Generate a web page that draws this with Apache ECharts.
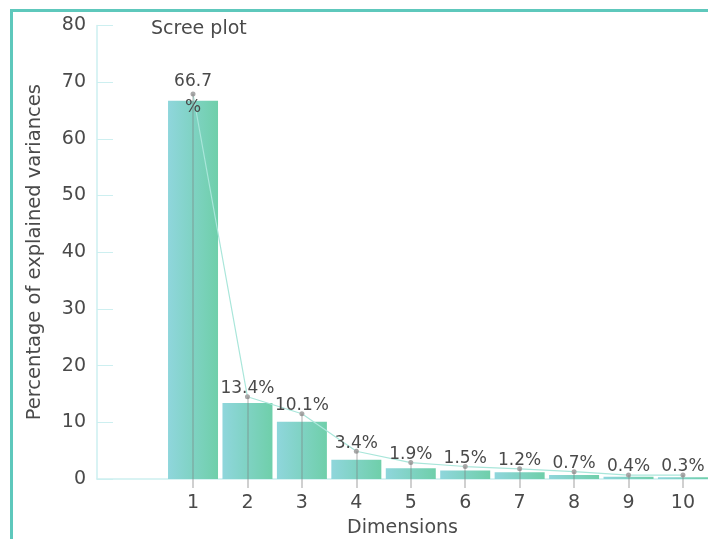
<!DOCTYPE html>
<html><head><meta charset="utf-8">
<script src="https://cdn.jsdelivr.net/npm/echarts@6/dist/echarts.min.js"></script>
<style>
html,body{margin:0;padding:0;background:#fff;overflow:hidden;}
#frame{position:absolute;left:10px;top:9px;width:760px;height:600px;border:3px solid #5ec8bc;box-sizing:border-box;}
#chart{position:absolute;left:0;top:0;width:708px;height:539px;}
</style></head>
<body>
<div id="frame"></div>
<div id="chart"></div>
<script>
const dimensions = [1, 2, 3, 4, 5, 6, 7, 8, 9, 10];
const explained = [66.7, 13.4, 10.1, 3.4, 1.9, 1.5, 1.2, 0.7, 0.4, 0.3];
const linePoints = [67.9, 14.5, 11.5, 4.9, 2.9, 2.2, 1.8, 1.3, 0.7, 0.7];
const yTicks = [0, 10, 20, 30, 40, 50, 60, 70, 80];

const FONT = 'DejaVu Sans';
const TXT = '#4a4a4a';
const chart = echarts.init(document.getElementById('chart'));
const barGrad = new echarts.graphic.LinearGradient(0, 0, 1, 0, [
  {offset: 0, color: '#8fd6dc'}, {offset: 1, color: '#6fcfaa'}
]);
chart.setOption({
  animation: false,
  textStyle: {fontFamily: FONT},
  title: {text: 'Scree plot', left: 146, top: 15,
    textStyle: {fontFamily: FONT, fontSize: 19, fontWeight: 400, color: TXT}},
  grid: {left: 97, right: 0, top: 25.4, bottom: 60, containLabel: false, outerBoundsMode: 'none'},
  xAxis: {
    type: 'value', min: -0.764, max: 10.46,
    name: 'Dimensions', nameLocation: 'middle', nameGap: 40,
    nameTextStyle: {fontFamily: FONT, fontSize: 19, color: TXT},
    axisLine: {show: true, onZero: false, lineStyle: {color: '#cdeff0', width: 1.5}},
    splitLine: {show: false},
    axisTick: {show: true, customValues: dimensions, length: 9, lineStyle: {color: 'rgba(150,150,150,0.45)', width: 2}},
    axisLabel: {customValues: dimensions, fontFamily: FONT, fontSize: 19, color: TXT, margin: 15}
  },
  yAxis: {
    type: 'value', min: 0, max: 80, interval: 10,
    name: 'Percentage of explained variances', nameLocation: 'middle', nameGap: 52,
    nameTextStyle: {fontFamily: FONT, fontSize: 19.5, color: TXT},
    axisLine: {show: true, onZero: false, lineStyle: {color: '#cdeff0', width: 1.5}},
    axisTick: {show: true, inside: true, length: 16, lineStyle: {color: '#cdeff0'}},
    splitLine: {show: false},
    axisLabel: {fontFamily: FONT, fontSize: 19, color: TXT, margin: 11,
      customValues: yTicks}
  },
  series: [
    {
      type: 'bar', barWidth: 50,
      data: dimensions.map((d, i) => [d, explained[i]]),
      itemStyle: {color: barGrad},
      z: 2
    },
    {
      type: 'line',
      data: dimensions.map((d, i) => {
        const item = {value: [d, linePoints[i]]};
        if (i === 0) item.label = {position: 'inside', lineHeight: 26, offset: [0, 1]};
        return item;
      }),
      symbol: 'circle', symbolSize: 5,
      itemStyle: {color: '#a8a8a8'},
      lineStyle: {color: '#a9e6da', width: 1.2},
      label: {
        show: true, position: 'top', distance: -3,
        fontFamily: FONT, fontSize: 17, color: TXT,
        formatter: p => p.dataIndex === 0 ? explained[0] + '\n%' : explained[p.dataIndex] + '%'
      },
      markLine: {
        silent: true, symbol: 'none', label: {show: false},
        lineStyle: {color: 'rgba(120,120,120,0.4)', width: 1.5, type: 'solid'},
        data: dimensions.map((d, i) => [{coord: [d, linePoints[i]]}, {coord: [d, 0]}])
      },
      z: 3
    }
  ]
});
</script>
</body></html>
